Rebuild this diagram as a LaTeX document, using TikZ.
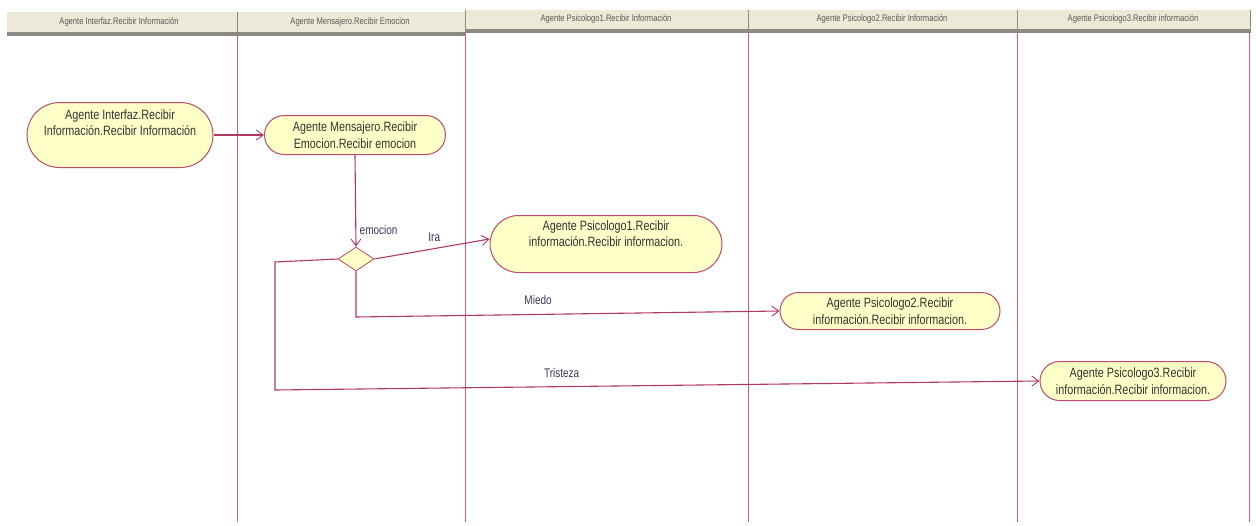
\documentclass[tikz,border=0pt]{standalone}
\usepackage{fontspec}
\setmainfont{Liberation Sans}
\newfontfamily\actfont[FakeStretch=0.8]{Liberation Sans}
\usetikzlibrary{arrows.meta,shapes.geometric,shapes.misc}

\definecolor{lanecol}{HTML}{CC5A90}
\definecolor{flowcol}{HTML}{B23A62}
\definecolor{actfill}{HTML}{FFFFC8}
\definecolor{actdraw}{HTML}{C04A6A}
\definecolor{headfill}{HTML}{ECE9D8}
\definecolor{headline}{HTML}{8A8A82}
\definecolor{labcol}{HTML}{3C3560}

\tikzset{
  x=1pt, y=-1pt,
  lane/.style={draw=lanecol, line width=1pt},
  headbar/.style={fill=headfill, draw=none},
  headtext/.style={font=\actfont\fontsize{9.5}{10}\selectfont, text=black!65},
  activity/.style={rounded rectangle, draw=actdraw, line width=1pt, fill=actfill,
    font=\actfont\fontsize{13.5}{16.5}\selectfont, align=center, inner sep=0pt, text=black!80},
  choice/.style={diamond, draw=actdraw, line width=0.8pt, fill=actfill,
    minimum width=36pt, minimum height=24pt, inner sep=0pt, aspect=1.5},
  flow/.style={draw=flowcol, line width=1.1pt, -{Straight Barb[length=7pt,width=10pt,line width=0.9pt]}},
  guard/.style={font=\actfont\fontsize{12.5}{13}\selectfont, text=labcol}
}

\begin{document}
\begin{tikzpicture}
\useasboundingbox (0,0) rectangle (1256,525);
\fill[white] (0,0) rectangle (1256,525);

% swimlane separators
\draw[lane] (237.5,36) -- (237.5,522);
\draw[lane] (465.5,33) -- (465.5,522);
\draw[lane] (748.5,33) -- (748.5,522);
\draw[lane] (1017.5,33) -- (1017.5,522);
\draw[lane] (1249.5,33) -- (1249.5,522);

% lane headers, left block
\fill[headbar] (7,12) rectangle (465,32);
\fill[headline] (7,32) rectangle (465,36);
\draw[headline, line width=1pt] (237,12) -- (237,32);
% lane headers, right block
\fill[headbar] (465,10) rectangle (1251,29);
\fill[headline] (465,29) rectangle (1251,33);
\draw[headline, line width=1pt] (465,10) -- (465,29);
\draw[headline, line width=1pt] (748,10) -- (748,29);
\draw[headline, line width=1pt] (1017,10) -- (1017,29);
\draw[headline, line width=1pt] (1250,10) -- (1250,29);

\node[headtext] (h1) at (119,22) {Agente Interfaz.Recibir Información};
\node[headtext] (h2) at (350,22) {Agente Mensajero.Recibir Emocion};
\node[headtext] (h3) at (606,19) {Agente Psicologo1.Recibir Información};
\node[headtext] (h4) at (882,19) {Agente Psicologo2.Recibir Información};
\node[headtext] (h5) at (1133,19) {Agente Psicologo3.Recibir información};

% activities
\node[activity, minimum width=186pt, minimum height=65pt] (inter) at (120,135)
  {Agente Interfaz.Recibir\\Información.Recibir Información\\[8pt]};
\node[activity, minimum width=181pt, minimum height=39pt] (mens) at (355,135)
  {Agente Mensajero.Recibir\\Emocion.Recibir emocion};
\node[activity, minimum width=232pt, minimum height=57pt] (psi1) at (606,244)
  {Agente Psicologo1.Recibir\\información.Recibir informacion.\\[4pt]};
\node[activity, minimum width=220pt, minimum height=37pt] (psi2) at (890,311)
  {Agente Psicologo2.Recibir\\información.Recibir informacion.};
\node[activity, minimum width=186pt, minimum height=39pt] (psi3) at (1133,381)
  {Agente Psicologo3.Recibir\\información.Recibir informacion.};

% decision
\node[choice] (dec) at (356,259) {};

% bend points of the branches
\coordinate (miedoA) at (356,317);
\coordinate (tristA) at (275,262);
\coordinate (tristB) at (275,390);

% flows
\draw[flow] (inter.east) -- (mens.west);
\draw[flow] (mens.south) -- (dec.north)
  node[guard, pos=0.82, right=0pt] (gEmo) {emocion};
\draw[flow] (dec.east) -- ([yshift=5pt]psi1.west)
  node[guard, pos=0.52, above=3pt] (gIra) {Ira};
\draw[flow] (dec.south) -- (miedoA) -- (psi2.west)
  node[guard, pos=0.43, above=6pt] (gMiedo) {Miedo};
\draw[flow] (dec.west) -- (tristA) -- (tristB) -- (psi3.west)
  node[guard, pos=0.375, above=5pt] (gTrist) {Tristeza};
\end{tikzpicture}
\end{document}
